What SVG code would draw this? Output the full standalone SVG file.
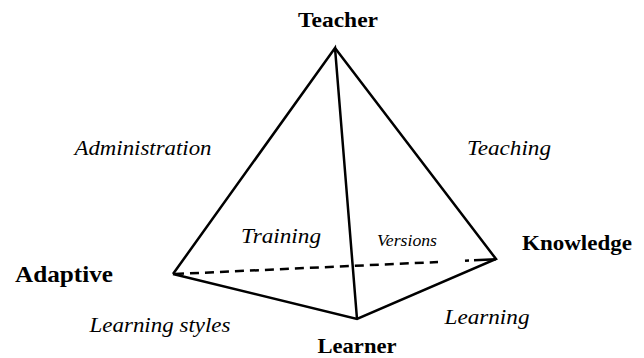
<svg xmlns="http://www.w3.org/2000/svg" width="644" height="358" viewBox="0 0 644 358">
<style>
.edge{stroke:#000;stroke-width:2.5;fill:none;stroke-linejoin:miter;stroke-linecap:butt}
.dash{stroke:#000;stroke-width:2.5;fill:none;stroke-dasharray:9 6}
text{font-family:"Liberation Serif","DejaVu Serif","Noto Serif","Times New Roman",serif;fill:#000;text-anchor:middle}
.node{font-weight:bold;font-size:22px}
.lbl{font-style:italic;font-size:22px}
</style>
<rect width="644" height="358" fill="#fff"/>
<g id="connectors">
<line class="dash" x1="175" y1="274" x2="438" y2="262"/>
<line class="edge" x1="465" y1="260.7" x2="469" y2="260.5"/>
<line class="edge" x1="474" y1="260.3" x2="496" y2="259.3"/>
<polyline class="edge" points="173,274 335,48 357,319"/>
<polyline class="edge" points="335,48 496,259 357,319 173,274"/>
</g>
<g id="teacher"><text class="node" x="338" y="27" textLength="80" lengthAdjust="spacingAndGlyphs">Teacher</text></g>
<g id="adaptive"><text class="node" x="64" y="282" style="font-size:24px" textLength="98" lengthAdjust="spacingAndGlyphs">Adaptive</text></g>
<g id="knowledge"><text class="node" x="577" y="250" textLength="110" lengthAdjust="spacingAndGlyphs">Knowledge</text></g>
<g id="learner"><text class="node" x="357" y="353" textLength="79" lengthAdjust="spacingAndGlyphs">Learner</text></g>
<g id="labels">
<text class="lbl" x="143" y="155" textLength="137" lengthAdjust="spacingAndGlyphs">Administration</text>
<text class="lbl" x="509" y="155" textLength="84" lengthAdjust="spacingAndGlyphs">Teaching</text>
<text class="lbl" x="281" y="243" textLength="80" lengthAdjust="spacingAndGlyphs">Training</text>
<text class="lbl" x="407" y="246" style="font-size:17px" textLength="60" lengthAdjust="spacingAndGlyphs">Versions</text>
<text class="lbl" x="160" y="332" textLength="141" lengthAdjust="spacingAndGlyphs">Learning styles</text>
<text class="lbl" x="487" y="324" textLength="85" lengthAdjust="spacingAndGlyphs">Learning</text>
</g>
</svg>
